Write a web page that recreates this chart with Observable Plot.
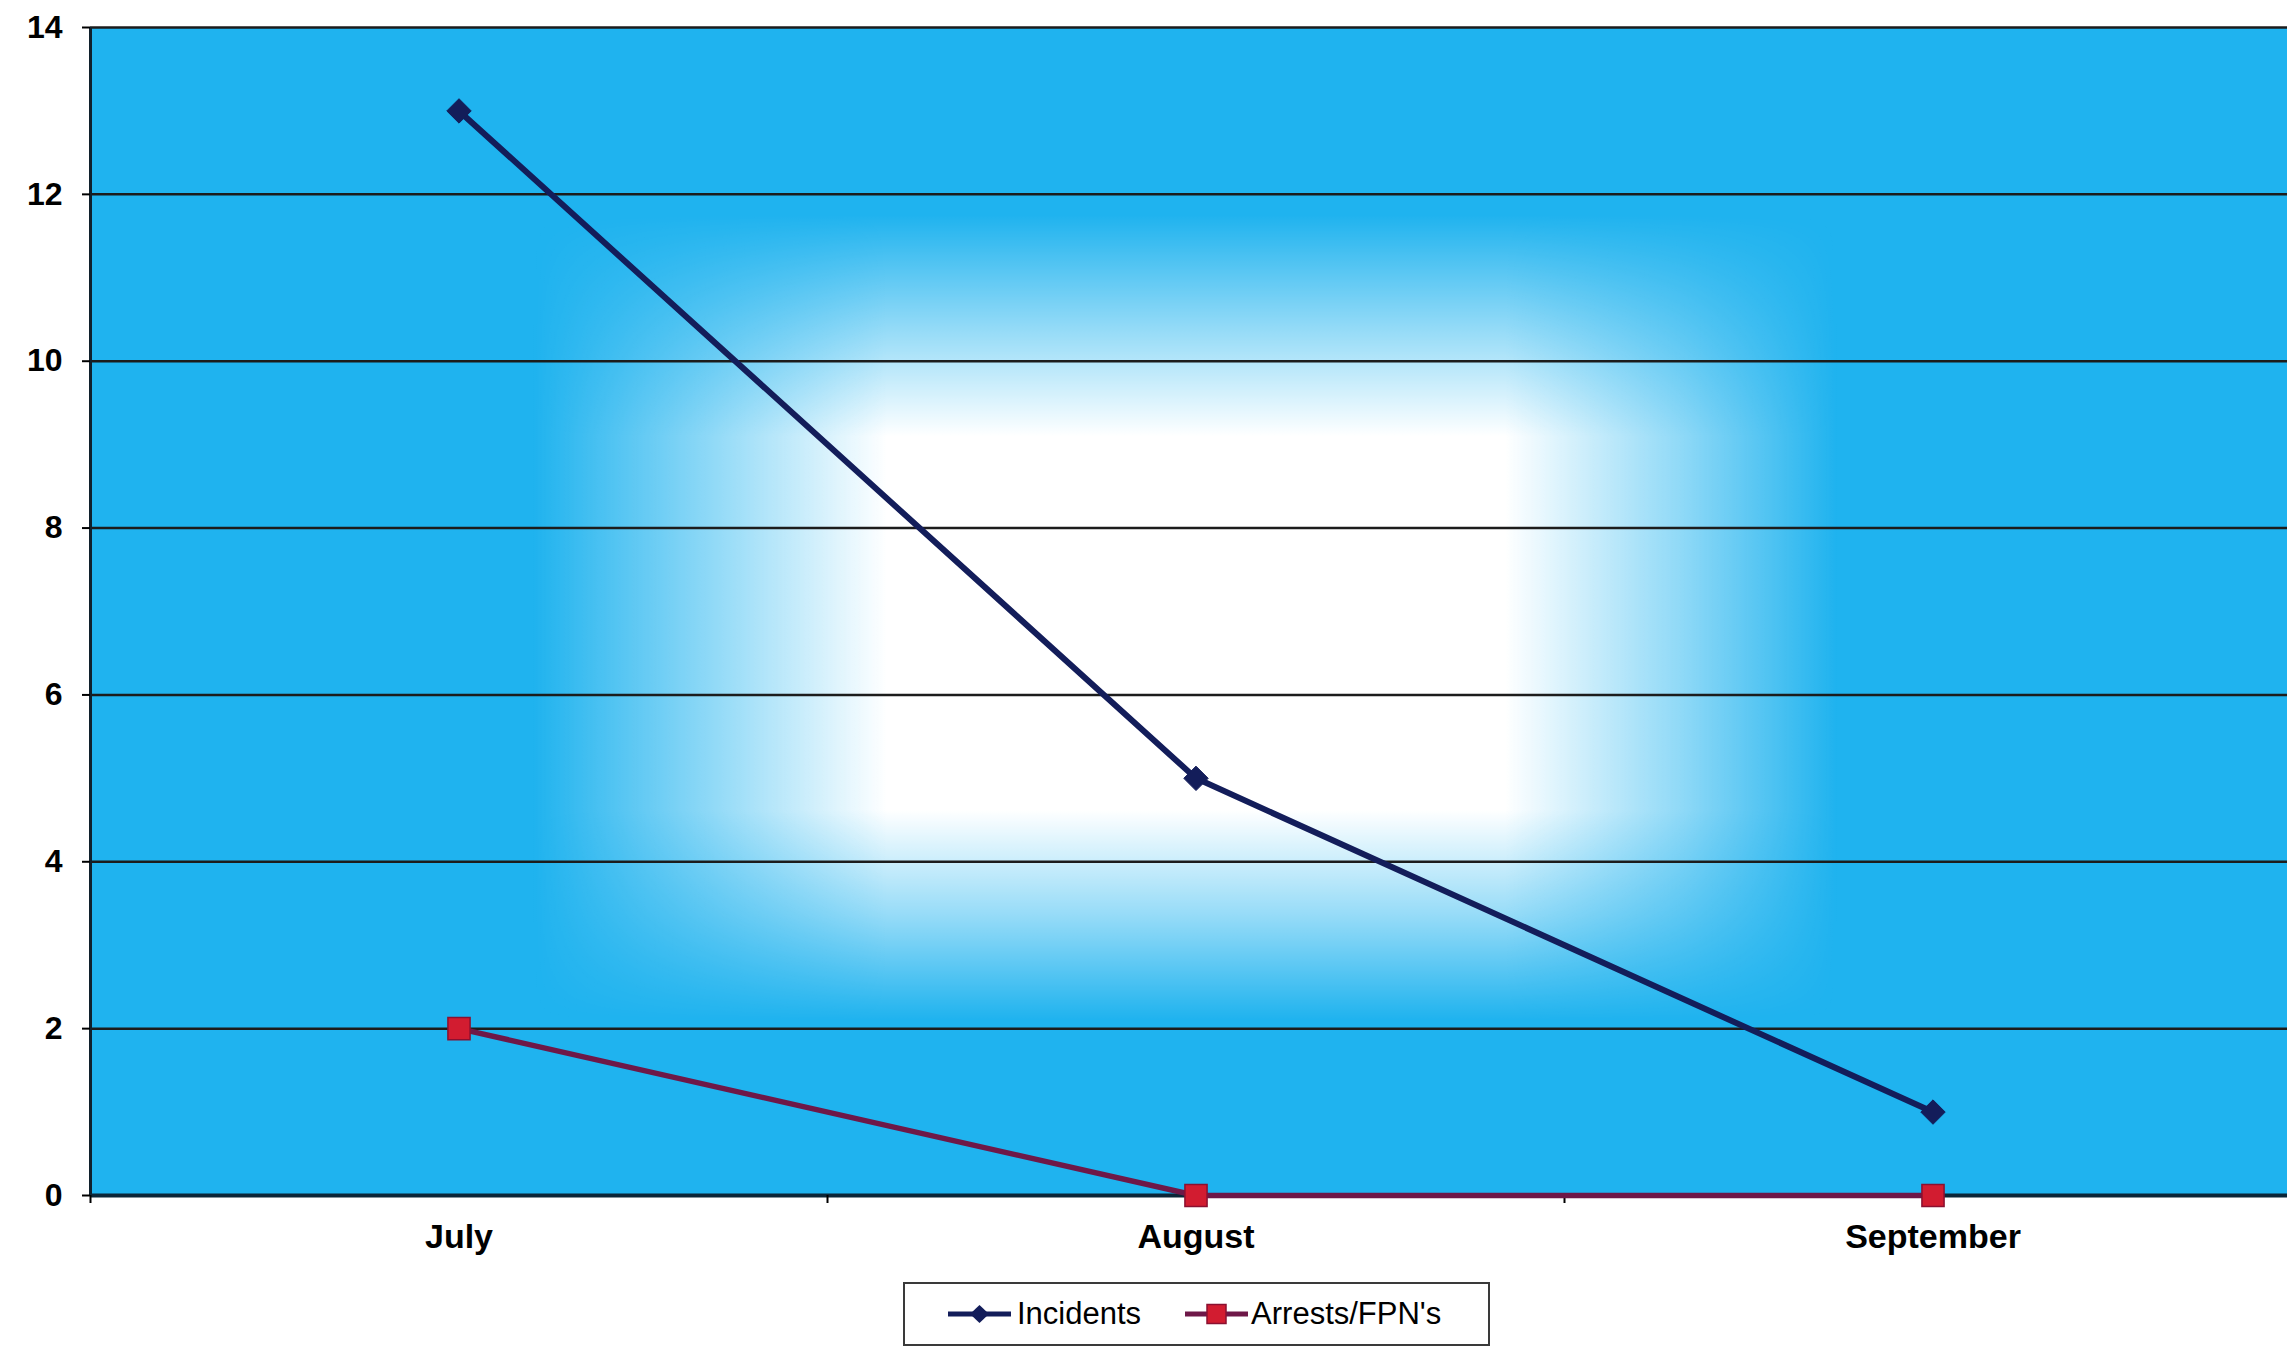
<!DOCTYPE html>
<html>
<head>
<meta charset="utf-8">
<script src="https://cdn.jsdelivr.net/npm/d3@7"></script>
<script src="https://cdn.jsdelivr.net/npm/@observablehq/plot@0.6"></script>
<style>
  html, body { margin: 0; padding: 0; background: #fff; overflow: hidden; width: 2287px; height: 1346px; }
  #chart { position: absolute; left: 0; top: 0; width: 2301px; }
  #chart svg { max-width: none !important; }
  #legend {
    position: absolute; left: 903px; top: 1282px; width: 587px; height: 64px;
    box-sizing: border-box; border: 2px solid #3a3a3a; background: #fff;
    display: flex; align-items: center; padding-left: 43px;
    font-family: "Liberation Sans", Arial, sans-serif; font-size: 31px; color: #000;
  }
  .item { display: flex; align-items: center; }
  .item svg { display: block; }
</style>
</head>
<body>
<div id="chart"></div>
<div id="legend"></div>
<script>
// ---- data ----
const months = ["July", "August", "September"];
const incidents = [13, 5, 1];
const arrests = [2, 0, 0];
const yTicks = [0, 2, 4, 6, 8, 10, 12, 14];
const seriesNames = ["Incidents", "Arrests/FPN's"];

// ---- rows built from arrays (x = category slot centre) ----
const incRows = months.map((m, i) => ({pos: i + 0.5, month: m, value: incidents[i]}));
const arrRows = months.map((m, i) => ({pos: i + 0.5, month: m, value: arrests[i]}));

const navy = "#131d5a";
const maroon = "#6e1848";
const red = "#d21c30";

const chart = Plot.plot({
  width: 2301,
  height: 1272,
  marginLeft: 90,
  marginRight: 0,
  marginTop: 27,
  marginBottom: 77,
  style: {fontFamily: "'Liberation Sans', Arial, sans-serif", background: "transparent", color: "#000", maxWidth: "none"},
  x: {type: "linear", domain: [0, months.length], axis: null},
  y: {domain: [0, 14], axis: null},
  marks: [
    Plot.frame({fill: "#1fb3ef", stroke: null}),
    Plot.frame({fill: "url(#glowH)", stroke: null}),
    Plot.gridY(yTicks, {stroke: "#1c1c1c", strokeOpacity: 1, strokeWidth: 2.5}),
    Plot.ruleX([0], {stroke: "#10202c", strokeWidth: 3}),
    Plot.ruleY([0], {stroke: "#0b2638", strokeWidth: 4}),
    Plot.axisY(yTicks, {tickSize: 8, tickPadding: 20, fontSize: 32, fontWeight: "bold", strokeWidth: 2, tickFormat: d => String(d), label: null}),
    Plot.axisX(d3.range(months.length + 1), {tickSize: 8, tickFormat: () => "", strokeWidth: 2, label: null}),
    Plot.axisX(incRows.map(d => d.pos), {
      tickSize: 0, tickPadding: 28, fontSize: 34, fontWeight: "bold", label: null,
      tickFormat: p => months[Math.floor(p)]
    }),
    Plot.line(arrRows, {x: "pos", y: "value", stroke: maroon, strokeWidth: 5.5}),
    Plot.line(incRows, {x: "pos", y: "value", stroke: navy, strokeWidth: 6}),
    Plot.dot(arrRows, {x: "pos", y: "value", symbol: "square", r: 12.5, fill: red, stroke: "#8a1030", strokeWidth: 1.5}),
    Plot.dot(incRows, {x: "pos", y: "value", symbol: "diamond2", r: 11, fill: navy, stroke: navy, strokeWidth: 1})
  ]
});
chart.style.maxWidth = "none";

// rectangular "from centre" glow: horizontal white gradient masked by a vertical one
chart.insertAdjacentHTML("afterbegin", `
<defs>
  <linearGradient id="glowH" x1="0" x2="1" y1="0" y2="0">
    <stop offset="0" stop-color="#fff" stop-opacity="0"/>
    <stop offset="0.2" stop-color="#fff" stop-opacity="0"/>
    <stop offset="0.28" stop-color="#fff" stop-opacity="0.5"/>
    <stop offset="0.36" stop-color="#fff" stop-opacity="1"/>
    <stop offset="0.64" stop-color="#fff" stop-opacity="1"/>
    <stop offset="0.72" stop-color="#fff" stop-opacity="0.5"/>
    <stop offset="0.79" stop-color="#fff" stop-opacity="0"/>
    <stop offset="1" stop-color="#fff" stop-opacity="0"/>
  </linearGradient>
  <linearGradient id="glowV" x1="0" x2="0" y1="0" y2="1">
    <stop offset="0" stop-color="#000"/>
    <stop offset="0.16" stop-color="#000"/>
    <stop offset="0.26" stop-color="#888"/>
    <stop offset="0.35" stop-color="#fff"/>
    <stop offset="0.67" stop-color="#fff"/>
    <stop offset="0.76" stop-color="#888"/>
    <stop offset="0.85" stop-color="#000"/>
    <stop offset="1" stop-color="#000"/>
  </linearGradient>
  <mask id="glowMask" maskUnits="objectBoundingBox" maskContentUnits="objectBoundingBox" x="0" y="0" width="1" height="1">
    <rect x="0" y="0" width="1" height="1" fill="url(#glowV)"/>
  </mask>
</defs>`);
const frames = chart.querySelectorAll('[aria-label="frame"]');
if (frames.length > 1) frames[1].setAttribute("mask", "url(#glowMask)");

document.getElementById("chart").appendChild(chart);

// ---- legend ----
const legend = document.getElementById("legend");
const swatches = [
  {line: navy, marker: `<path d="M31.5,6 L41,15 L31.5,24 L22,15 Z" fill="${navy}"/>`},
  {line: maroon, marker: `<rect x="22" y="5.5" width="19" height="19" fill="${red}" stroke="#8a1030" stroke-width="1.5"/>`}
];
seriesNames.forEach((name, i) => {
  const item = document.createElement("div");
  item.className = "item";
  if (i > 0) item.style.marginLeft = "44px";
  item.innerHTML = `<svg width="63" height="30"><line x1="0" x2="63" y1="15" y2="15" stroke="${swatches[i].line}" stroke-width="5"/>${swatches[i].marker}</svg><span style="margin-left:${i === 0 ? 6 : 3}px">${name}</span>`;
  legend.appendChild(item);
});
</script>
</body>
</html>
